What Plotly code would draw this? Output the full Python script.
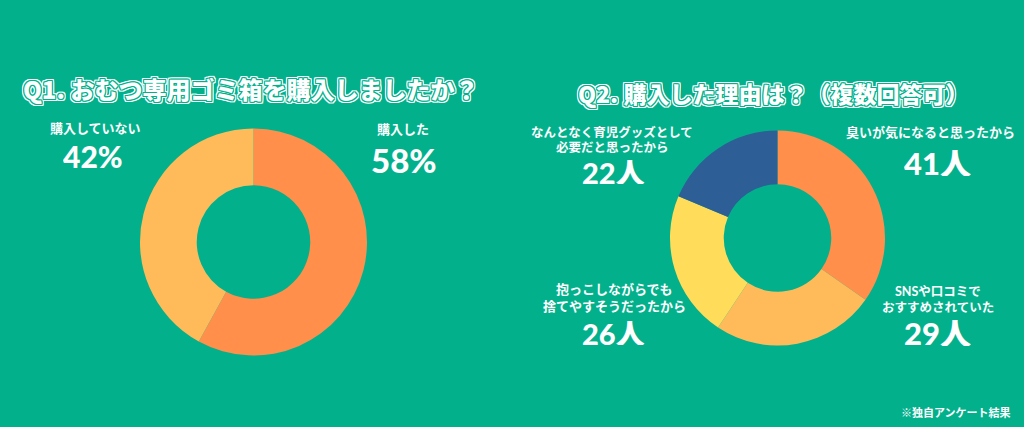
import plotly.graph_objects as go

BG = "#02B18C"

q1_labels = ["購入した", "購入していない"]
q1_values = [58, 42]
q1_colors = ["#FF8F4B", "#FFBB5A"]

q2_labels = ["臭いが気になると思ったから", "SNSや口コミでおすすめされていた",
             "抱っこしながらでも捨てやすそうだったから", "なんとなく育児グッズとして必要だと思ったから"]
q2_values = [41, 29, 26, 22]
q2_colors = ["#FF8F4B", "#FFBB5A", "#FFDC59", "#2E5E96"]

q1_title = "Q1. おむつ専用ゴミ箱を購入しましたか？"
q2_title = "Q2. 購入した理由は？（複数回答可）"
footer = "※独自アンケート結果"

W, H = 1024, 427
FONT = "Noto Sans CJK JP"
NUMFONT = "Lato, Noto Sans CJK JP"

fig = go.Figure()
fig.add_trace(go.Pie(
    labels=q1_labels, values=q1_values, hole=0.5, sort=False, direction="clockwise",
    rotation=0, marker=dict(colors=q1_colors, line=dict(width=0)), textinfo="none",
    hoverinfo="label+percent", showlegend=False,
    domain=dict(x=[140 / W, 367 / W], y=[(H - 355.5) / H, (H - 128.5) / H]),
))
fig.add_trace(go.Pie(
    labels=q2_labels, values=q2_values, hole=0.5, sort=False, direction="clockwise",
    rotation=0, marker=dict(colors=q2_colors, line=dict(width=0)), textinfo="none",
    hoverinfo="label+value", showlegend=False,
    domain=dict(x=[670 / W, 885 / W], y=[(H - 345.5) / H, (H - 130.5) / H]),
))

outline = ", ".join(
    [f"{dx}px {dy}px 0 {BG}" for dx, dy in [(1, 0), (-1, 0), (0, 1), (0, -1), (1, 1), (-1, -1), (1, -1), (-1, 1)]]
    + [f"{dx}px {dy}px 0 #ffffff" for dx, dy in [(2, 0), (-2, 0), (0, 2), (0, -2), (2, 2), (-2, -2), (2, -2), (-2, 2), (2, 1), (-2, 1), (2, -1), (-2, -1), (1, 2), (-1, 2), (1, -2), (-1, -2)]]
)

def ann(text, x, y, size, weight=900, shadow=None, height=None, family=FONT):
    f = dict(family=family, size=size, color="white", weight=weight)
    if shadow:
        f["shadow"] = shadow
    kw = {}
    if height:
        kw["height"] = height
    fig.add_annotation(text=text, x=x / W, y=1 - y / H, xref="paper", yref="paper",
                       showarrow=False, xanchor="center", yanchor="middle", font=f,
                       borderpad=0, **kw)

ann(q1_title, 250, 88, 24, shadow=outline)
ann(q2_title, 773, 93, 23, shadow=outline)

# Q1 labels
ann(q1_labels[1], 95, 127, 13, weight="bold")
ann(f"{q1_values[1]}%", 93, 156, 30, height=26, family=NUMFONT)
ann(q1_labels[0], 403, 128, 13, weight="bold")
ann(f"{q1_values[0]}%", 404, 160, 33, height=28, family=NUMFONT)

# Q2 labels
ann("なんとなく育児グッズとして", 612, 132, 12.5, weight="bold", family=NUMFONT)
ann("必要だと思ったから", 612, 148, 12.5, weight="bold", family=NUMFONT)
ann(f"{q2_values[3]}人", 613, 172, 29, height=24, family=NUMFONT)
ann("臭いが気になると思ったから", 930, 131, 13, weight="bold")
ann(f"{q2_values[0]}人", 937, 163, 31, height=26, family=NUMFONT)
ann("抱っこしながらでも", 614, 289, 13, weight="bold", family=NUMFONT)
ann("捨てやすそうだったから", 614, 306, 13, weight="bold", family=NUMFONT)
ann(f"{q2_values[2]}人", 613, 333, 29, height=24, family=NUMFONT)
ann("SNSや口コミで", 938, 291, 12.5, weight="bold", family=NUMFONT)
ann("おすすめされていた", 938, 307, 12.5, weight="bold", family=NUMFONT)
ann(f"{q2_values[1]}人", 937, 333, 31, height=26, family=NUMFONT)

ann(footer, 956, 412, 11, weight="bold")

fig.update_layout(
    width=W, height=H, margin=dict(l=0, r=0, t=0, b=0),
    paper_bgcolor=BG, plot_bgcolor=BG,
)
fig.write_html("out.html", config={"displayModeBar": False},
               post_script="document.body.style.margin='0';document.body.style.background='" + BG + "';")
